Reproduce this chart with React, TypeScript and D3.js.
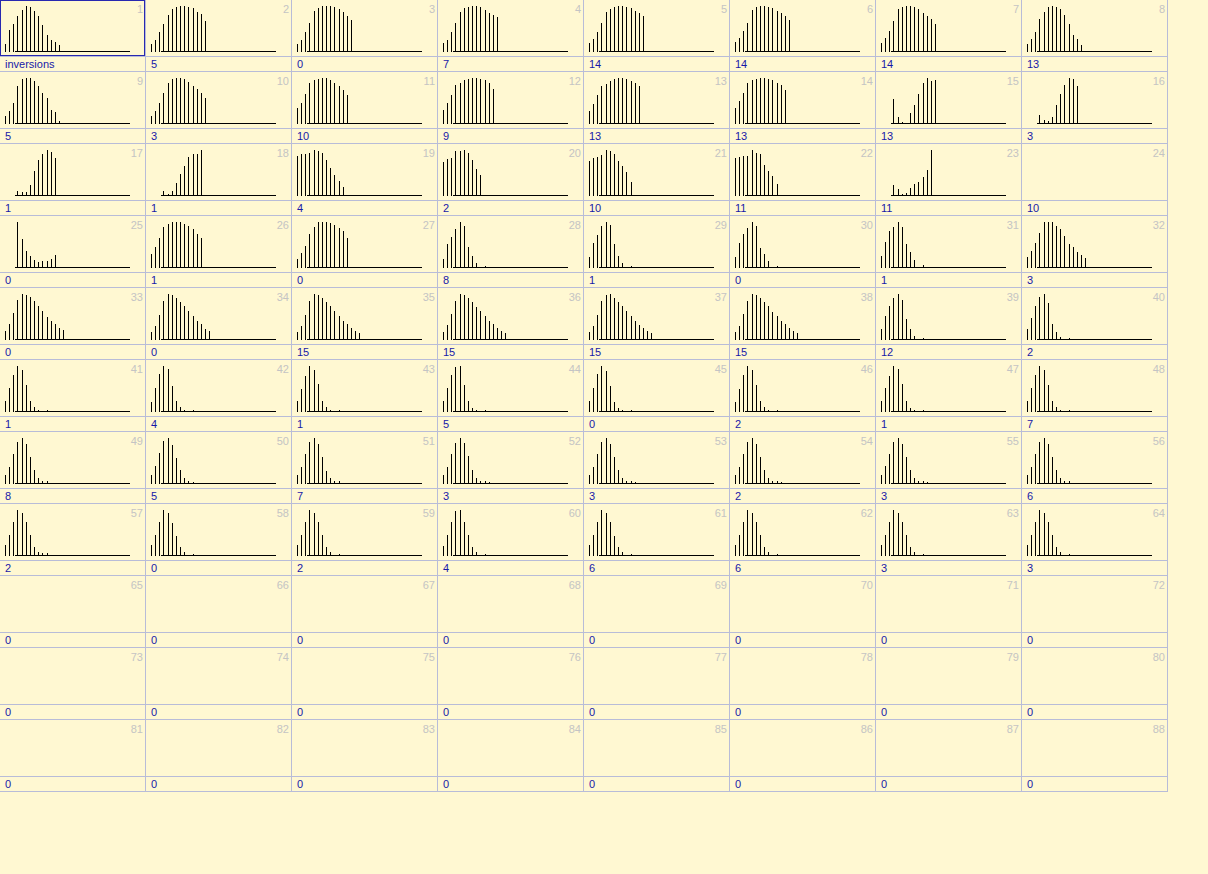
import React from 'react';
import * as d3 from 'd3';

const COLS = 8;
const ROWS = 11;
const CELL_W = 146;
const CELL_H = 72;

const cellLabels: string[] = [
  'inversions', '5', '0', '7', '14', '14', '14', '13',
  '5', '3', '10', '9', '13', '13', '13', '3',
  '1', '1', '4', '2', '10', '11', '11', '10',
  '0', '1', '0', '8', '1', '0', '1', '3',
  '0', '0', '15', '15', '15', '15', '12', '2',
  '1', '4', '1', '5', '0', '2', '1', '7',
  '8', '5', '7', '3', '3', '2', '3', '6',
  '2', '0', '2', '4', '6', '6', '3', '3',
  '0', '0', '0', '0', '0', '0', '0', '0',
  '0', '0', '0', '0', '0', '0', '0', '0',
  '0', '0', '0', '0', '0', '0', '0', '0',
];

// first occupied slot of each histogram
const startSlots: number[] = [
  0, 0, 0, 0, 0, 0, 0, 0,
  0, 0, 0, 0, 0, 0, 3, 3,
  3, 3, 0, 0, 0, 0, 3, 0,
  3, 0, 0, 0, 0, 0, 0, 0,
  0, 0, 0, 0, 0, 0, 0, 0,
  0, 0, 0, 0, 0, 0, 0, 0,
  0, 0, 0, 0, 0, 0, 0, 0,
  0, 0, 0, 0, 0, 0, 0, 0,
];

// histogram counts per cell (cells 1..64)
const histValues: number[][] = [
  [20, 65, 83, 107, 125, 137, 135, 122, 107, 80, 50, 35, 27, 17],
  [20, 33, 57, 83, 110, 127, 135, 137, 137, 135, 130, 118, 112, 90],
  [20, 35, 58, 85, 122, 132, 137, 137, 137, 133, 127, 120, 107, 95],
  [23, 35, 58, 85, 118, 130, 135, 137, 137, 133, 125, 117, 110, 105],
  [23, 37, 58, 85, 118, 128, 135, 137, 137, 135, 132, 122, 117, 107],
  [27, 40, 60, 85, 125, 135, 137, 137, 135, 130, 122, 115, 107, 95],
  [25, 40, 62, 92, 127, 135, 137, 137, 135, 127, 117, 107, 97, 82],
  [22, 37, 58, 97, 120, 135, 137, 135, 127, 110, 82, 50, 37, 19],
  [22, 37, 60, 110, 133, 135, 135, 127, 110, 90, 75, 40, 32, 5],
  [22, 37, 62, 90, 123, 135, 137, 137, 135, 125, 112, 102, 90, 75],
  [45, 60, 87, 123, 130, 135, 137, 137, 130, 122, 112, 100, 85],
  [40, 60, 85, 117, 123, 132, 135, 137, 137, 135, 130, 123, 102],
  [37, 58, 83, 110, 117, 127, 132, 135, 135, 132, 127, 120, 110],
  [45, 67, 90, 123, 130, 135, 137, 137, 135, 130, 123, 115, 100],
  [72, 18, 3, 0, 30, 55, 88, 120, 135, 125, 130],
  [25, 8, 5, 18, 55, 88, 115, 135, 132, 112],
  [12, 10, 10, 30, 72, 105, 122, 135, 130, 110],
  [12, 3, 12, 37, 63, 88, 115, 123, 123, 135],
  [118, 122, 123, 127, 135, 132, 127, 105, 82, 60, 42, 25],
  [100, 107, 112, 132, 132, 135, 125, 105, 78, 60],
  [102, 110, 115, 120, 135, 132, 122, 102, 88, 70, 40],
  [110, 113, 117, 118, 135, 127, 122, 90, 72, 57, 32],
  [32, 17, 3, 7, 20, 35, 40, 55, 77, 138],
  [],
  [138, 85, 48, 33, 22, 15, 18, 19, 25, 37],
  [40, 62, 90, 122, 132, 138, 138, 138, 132, 125, 115, 102, 90],
  [25, 42, 63, 100, 123, 138, 138, 138, 135, 128, 120, 110, 88],
  [25, 70, 93, 118, 138, 125, 60, 35, 12, 0, 3],
  [30, 73, 97, 125, 138, 128, 70, 35, 12, 0, 3],
  [32, 73, 100, 120, 138, 125, 57, 40, 17, 0, 3],
  [35, 78, 110, 122, 138, 122, 72, 45, 20, 0, 5],
  [30, 48, 73, 105, 138, 138, 138, 125, 115, 95, 72, 62, 47, 38, 28],
  [25, 45, 80, 120, 138, 135, 128, 115, 100, 85, 68, 55, 45, 35, 28],
  [20, 40, 75, 118, 138, 135, 125, 112, 100, 85, 70, 55, 45, 32, 25],
  [20, 40, 75, 115, 138, 135, 125, 112, 100, 85, 70, 55, 45, 35, 25, 18],
  [20, 42, 78, 118, 138, 136, 126, 112, 98, 85, 70, 56, 45, 35, 25, 18],
  [22, 40, 75, 115, 136, 138, 125, 113, 100, 86, 72, 55, 44, 35, 24, 17],
  [20, 40, 76, 117, 138, 135, 127, 112, 100, 84, 70, 56, 45, 34, 25, 18],
  [30, 70, 100, 125, 138, 120, 60, 30, 10, 0, 3],
  [30, 65, 100, 130, 138, 110, 45, 20, 5, 0, 3],
  [30, 70, 110, 138, 125, 80, 30, 12, 4, 0, 3],
  [28, 72, 112, 138, 128, 78, 30, 12, 4, 0, 3],
  [30, 68, 108, 138, 126, 82, 32, 12, 4, 0, 3],
  [32, 70, 110, 136, 138, 80, 30, 10, 4, 0, 3],
  [30, 72, 112, 138, 124, 78, 28, 10, 4, 0, 3],
  [28, 68, 110, 138, 126, 80, 32, 12, 4, 0, 3],
  [30, 70, 108, 138, 128, 82, 30, 10, 4, 0, 3],
  [30, 72, 110, 138, 125, 80, 30, 12, 4, 0, 3],
  [25, 50, 90, 125, 138, 120, 80, 40, 15, 5, 5],
  [25, 52, 92, 128, 138, 118, 78, 40, 15, 5, 4],
  [26, 50, 90, 125, 138, 120, 80, 38, 14, 5, 5],
  [25, 50, 88, 124, 138, 122, 82, 40, 15, 5, 5, 3],
  [24, 50, 90, 125, 138, 120, 80, 40, 15, 5, 5, 3],
  [25, 50, 90, 126, 138, 120, 80, 40, 15, 5, 5, 3],
  [25, 52, 90, 125, 138, 120, 80, 40, 15, 5, 5, 3],
  [25, 50, 90, 125, 138, 120, 80, 40, 15, 5, 5],
  [30, 60, 100, 138, 130, 100, 60, 25, 10, 5, 5],
  [30, 62, 102, 138, 128, 98, 58, 24, 10, 0, 4],
  [30, 60, 100, 138, 130, 100, 60, 25, 10, 0, 4],
  [28, 60, 100, 136, 138, 100, 60, 25, 10, 0, 4],
  [30, 62, 100, 138, 130, 100, 58, 25, 10, 0, 4],
  [30, 60, 102, 138, 130, 100, 60, 25, 10, 0, 4],
  [30, 60, 100, 138, 130, 100, 60, 25, 10, 0, 4],
  [30, 60, 100, 138, 130, 100, 60, 25, 10, 0, 4],
];

const BG = '#FFF8D2';
const GRID = '#B8BCD8';
const LABEL = '#1818A8';
const NUM = '#C4C4C4';
const FONT = '"Liberation Sans", Arial, sans-serif';

const slotX = d3.scaleLinear().domain([0, 30]).range([5, 129.5]);
const BASE_Y = 51;
const TOP_Y = 6;

export default function App() {
  const width = 1208;
  const height = 874;
  const cells = d3.range(COLS * ROWS);
  return (
    <svg
      width={width}
      height={height}
      style={{ position: 'absolute', left: 0, top: 0, background: BG }}
    >
      <rect x={0} y={0} width={width} height={height} fill={BG} />
      {cells.map((k) => {
        const c = k % COLS;
        const r = Math.floor(k / COLS);
        const x0 = c * CELL_W;
        const y0 = r * CELL_H;
        const vals = k < histValues.length ? histValues[k] : [];
        const start = k < startSlots.length ? startSlots[k] : 0;
        const maxV = d3.max(vals) || 1;
        const y = d3.scaleLinear().domain([0, maxV]).range([BASE_Y, TOP_Y]);
        return (
          <g key={k} transform={`translate(${x0},${y0})`}>
            <line x1={0} x2={CELL_W} y1={56.5} y2={56.5} stroke={GRID} strokeWidth={1} />
            <line x1={0} x2={CELL_W} y1={71.5} y2={71.5} stroke={GRID} strokeWidth={1} />
            <line x1={145.5} x2={145.5} y1={0} y2={CELL_H} stroke={GRID} strokeWidth={1} />
            {vals.length > 0 && (
              <line x1={15} x2={130} y1={BASE_Y + 0.5} y2={BASE_Y + 0.5} stroke="#000" strokeWidth={1} />
            )}
            {vals.map((v, i) => {
              if (v <= 0) return null;
              const px = Math.round(slotX(start + i)) + 0.5;
              return (
                <line
                  key={i}
                  x1={px}
                  x2={px}
                  y1={BASE_Y + 1}
                  y2={Math.round(y(v))}
                  stroke="#000"
                  strokeWidth={1}
                />
              );
            })}
            <text
              x={143}
              y={13}
              textAnchor="end"
              fill={NUM}
              fontFamily={FONT}
              fontSize={11}
            >
              {k + 1}
            </text>
            <text x={5} y={68} fill={LABEL} fontFamily={FONT} fontSize={11}>
              {cellLabels[k]}
            </text>
            {k === 0 && (
              <rect x={0.5} y={0.5} width={144} height={55} fill="none" stroke="#2828B0" strokeWidth={1} />
            )}
          </g>
        );
      })}
    </svg>
  );
}
